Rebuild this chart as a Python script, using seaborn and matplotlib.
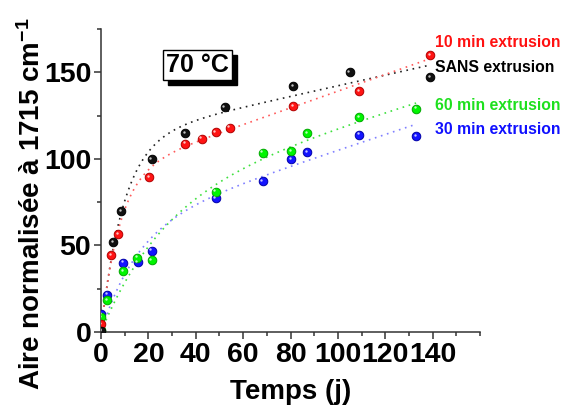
import numpy as np
import pandas as pd
import matplotlib
matplotlib.use("Agg")
import matplotlib.pyplot as plt
import matplotlib.transforms as mtransforms
from matplotlib.ticker import MultipleLocator
import seaborn as sns

# Measured normalised carbonyl area (1715 cm-1) vs ageing time at 70 °C
days_sans = [0, 5.2, 8.4, 21.4, 35.4, 52.2, 81, 105, 139]
area_sans = [0.5, 52, 70, 100, 115, 130, 142, 150, 147]

days_10 = [0, 4.2, 7.2, 20.2, 35.4, 42.5, 48.4, 54.3, 81, 109, 139]
area_10 = [4.6, 44.5, 56.6, 89.6, 108.7, 111.6, 115.6, 118, 130.6, 139, 160]

days_60 = [0, 0, 2.5, 9.3, 15.2, 21.4, 48.4, 68.2, 80.4, 87, 109, 133]
area_60 = [1, 8.7, 18.5, 35, 43, 41.6, 81, 103.5, 104.6, 115, 124, 129]

days_30 = [0, 2.5, 9.3, 15.5, 21.4, 48.4, 68.2, 80.4, 87, 109, 133]
area_30 = [10.5, 21.5, 40, 40.5, 47, 77.5, 87, 100, 104, 114, 113]

series_names = ["10 min extrusion", "SANS extrusion", "60 min extrusion", "30 min extrusion"]
x_ticks = [0, 20, 40, 60, 80, 100, 120, 140]
y_ticks = [0, 50, 100, 150]

series = {
    "SANS extrusion": (days_sans, area_sans),
    "10 min extrusion": (days_10, area_10),
    "60 min extrusion": (days_60, area_60),
    "30 min extrusion": (days_30, area_30),
}
point_colors = {"SANS extrusion": "#111111", "10 min extrusion": "#ff1414",
                "60 min extrusion": "#00f500", "30 min extrusion": "#1414ff"}
edge_colors = {"SANS extrusion": "#000000", "10 min extrusion": "#b00000",
               "60 min extrusion": "#00a800", "30 min extrusion": "#0000a8"}
line_colors = {"SANS extrusion": "#222222", "10 min extrusion": "#ff5a5a",
               "60 min extrusion": "#3ee03e", "30 min extrusion": "#8080ff"}
text_colors = {"SANS extrusion": "#000000", "10 min extrusion": "#ff1010",
               "60 min extrusion": "#1ee01e", "30 min extrusion": "#1010ff"}
label_y = {"10 min extrusion": 167, "SANS extrusion": 153,
           "60 min extrusion": 131, "30 min extrusion": 117}


def fit_curve(x, y):
    """Least-squares fit of y = A(1 - exp(-k x)) + B x."""
    x = np.asarray(x, float)
    y = np.asarray(y, float)
    best = None
    for k in np.linspace(0.01, 1.0, 500):
        M = np.column_stack([1 - np.exp(-k * x), x])
        coef, *_ = np.linalg.lstsq(M, y, rcond=None)
        r = np.sum((M @ coef - y) ** 2)
        if best is None or r < best[0]:
            best = (r, k, coef)
    _, k, (a, b) = best
    xs = np.linspace(0, x.max(), 300)
    return xs, a * (1 - np.exp(-k * xs)) + b * xs


sns.set_theme(style="ticks")
plt.rcParams["font.family"] = ["Liberation Sans", "DejaVu Sans"]
plt.rcParams["font.weight"] = "bold"
plt.rcParams["mathtext.fontset"] = "custom"
plt.rcParams["mathtext.rm"] = "Liberation Sans:bold"
plt.rcParams["mathtext.bf"] = "Liberation Sans:bold"
plt.rcParams["mathtext.default"] = "bf"
for key in ("text.color", "axes.labelcolor", "xtick.labelcolor", "ytick.labelcolor"):
    plt.rcParams[key] = "black"

fig = plt.figure(figsize=(5.64, 4.09), dpi=100)
ax = fig.add_axes([101 / 564, 77 / 409, 379 / 564, 303 / 409])

# fitted trend curves
fit_rows = []
for name, (d, a) in series.items():
    xs, ys = fit_curve(d, a)
    fit_rows.append(pd.DataFrame({"Temps": xs, "Aire": ys, "serie": name}))
fit_df = pd.concat(fit_rows, ignore_index=True)
sns.lineplot(data=fit_df, x="Temps", y="Aire", hue="serie", palette=line_colors,
             linestyle=(0, (1, 2.8)), linewidth=1.2, legend=False, ax=ax, zorder=2)

# measured points, with a small glint to give a ball look
glint = mtransforms.offset_copy(ax.transData, fig=fig, x=-1.3, y=1.3, units="dots")
for name in ["30 min extrusion", "60 min extrusion", "10 min extrusion", "SANS extrusion"]:
    d, a = series[name]
    sns.scatterplot(x=d, y=a, color=point_colors[name], edgecolor=edge_colors[name],
                    linewidth=0.7, s=38, ax=ax, zorder=3)
    ax.scatter(d, a, s=3, color="white", alpha=0.75, linewidths=0,
               transform=glint, zorder=4)

# series labels on the right
for name in series_names:
    ax.text(141, label_y[name], name, color=text_colors[name], fontsize=11.3,
            fontweight="bold", ha="left", va="center", clip_on=False)

# temperature tag with drop shadow
shadow_tr = mtransforms.offset_copy(ax.transAxes, fig=fig, x=5, y=-5, units="dots")
ax.text(0.254, 0.882, "70 °C", color="black", transform=shadow_tr,
        fontsize=18, fontweight="bold", ha="center", va="center",
        bbox=dict(boxstyle="square,pad=0.12", facecolor="black", edgecolor="black"))
ax.text(0.254, 0.882, "70 °C", color="black", transform=ax.transAxes,
        fontsize=18, fontweight="bold", ha="center", va="center",
        bbox=dict(boxstyle="square,pad=0.12", facecolor="white", edgecolor="black",
                  linewidth=1))

ax.set_xlim(0, 160)
ax.set_ylim(0, 175)
ax.set_xticks(x_ticks)
ax.set_yticks(y_ticks)
ax.xaxis.set_minor_locator(MultipleLocator(10))
ax.yaxis.set_minor_locator(MultipleLocator(25))
ax.tick_params(axis="both", which="major", direction="out", length=5, width=1.1,
               color="#333333", labelsize=20.5, pad=2, labelcolor="black")
ax.tick_params(axis="both", which="minor", direction="out", length=3, width=1.1,
               color="#333333")
for lab in ax.get_xticklabels() + ax.get_yticklabels():
    lab.set_fontweight("bold")

sns.despine(ax=ax)
for sp in ("left", "bottom"):
    ax.spines[sp].set_color("#333333")
    ax.spines[sp].set_linewidth(1.1)

ax.set_xlabel("Temps (j)", fontsize=20, fontweight="bold", labelpad=8, color="black")
ax.set_ylabel(r"Aire normalisée à 1715 cm$^{-1}$", fontsize=20, fontweight="bold",
              color="black")
ax.yaxis.set_label_coords(-0.145, 0.425)
ax.grid(False)

fig.savefig("out.png", dpi=100)
